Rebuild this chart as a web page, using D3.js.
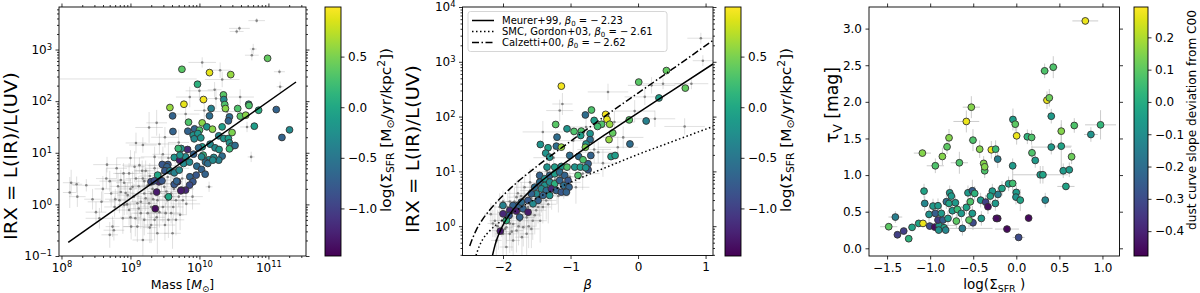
<!DOCTYPE html>
<html>
<head>
<meta charset="utf-8">
<script src="https://cdn.jsdelivr.net/npm/d3@7/dist/d3.min.js"></script>
<style>
  body { margin: 0; background: #fff; }
  svg { font-family: "DejaVu Sans", sans-serif; }
</style>
</head>
<body>
<svg id="fig" width="1200" height="293"></svg>
<script>
// ---------- values ----------

// panel 1: [log10 Mass, log10 IRX, log10 Sigma_SFR]
const p1Pts = [
  [9.746,2.617,0.35],[10.146,2.553,0.9],[10.454,2.514,0.6],[10.988,2.830,0.4],[9.972,2.327,0.1],
  [9.775,1.940,0.9],[10.059,2.031,0.95],[10.348,2.121,0.35],[10.353,2.031,-0.3],[10.367,1.934,0.3],
  [10.377,1.857,0.55],[10.170,1.857,-0.4],[10.146,1.715,-0.6],[10.555,1.857,0.3],[10.714,1.940,-0.2],
  [10.719,1.915,0.3],[10.858,1.824,0.05],[11.114,1.837,-0.7],[10.593,1.708,0.35],[10.671,1.728,0.55],
  [10.796,1.515,-0.1],[11.306,1.444,-0.3],[11.196,1.296,-0.7],[10.435,1.695,-0.6],[10.420,1.618,-0.7],
  [9.842,1.592,0.3],[10.040,1.579,0.55],[10.107,1.502,-0.2],[10.189,1.457,0.55],[10.329,1.502,-0.1],
  [10.473,1.392,0.5],[9.929,1.463,-0.7],[10.001,1.438,0.3],[9.832,1.418,-0.7],[9.909,1.341,-0.2],
  [9.977,1.373,-0.2],[9.924,1.270,-0.3],[10.020,1.289,-0.2],[10.280,1.328,-0.3],[10.353,1.276,-0.2],
  [10.420,1.276,-0.1],[10.435,1.192,-0.2],[10.468,1.128,-0.3],[10.435,1.076,0.2],[10.516,1.141,-0.6],
  [10.155,1.167,-0.3],[10.040,1.115,-0.1],[9.987,1.096,-0.6],[10.227,1.096,-0.3],[10.285,1.063,-0.2],
  [10.329,0.935,-0.6],[10.280,0.857,-0.4],[10.208,0.909,-0.3],[10.136,0.864,-0.3],[10.054,0.954,0.15],
  [10.088,0.819,-0.6],[10.030,0.922,-0.3],[9.914,0.973,-0.7],[9.828,1.063,-1.2],[9.799,0.922,-0.3],
  [9.736,1.083,-0.2],[9.770,0.793,-0.3],[9.856,0.819,-0.3],[9.962,0.741,-0.6],[10.030,0.677,-0.7],
  [10.083,0.586,-0.7],[9.953,0.567,-0.8],[9.861,0.535,-0.7],[9.905,0.438,-0.8],[9.857,0.374,-0.9],
  [9.799,0.277,-1.2],[9.736,0.277,-1.3],[10.121,0.793,-0.6],[10.194,0.857,-0.3],
  [9.572,1.876,0.6],[9.611,1.715,-0.7],[9.616,1.412,-0.7],[9.693,1.083,0.2],[9.635,0.909,-0.2],
  [9.712,0.857,-1.3],[9.717,0.954,-0.2],[9.543,0.773,-0.8],[9.461,0.773,-0.8],[9.529,0.728,-0.7],
  [9.500,0.651,-0.8],[9.572,0.651,-0.4],[9.635,0.612,-0.4],[9.707,0.664,-0.3],[9.394,0.567,0.0],
  [9.413,0.438,-1.2],[9.457,0.457,-0.8],[9.298,0.438,-0.9],[9.346,0.457,-0.9],[9.683,0.438,-1.2],
  [9.635,0.387,-0.8],[9.669,0.451,-0.7],[9.731,0.264,-1.3],[9.380,0.238,-1.3],[9.553,0.148,0.0],
  [9.360,-0.084,-1.4]
];

// panel 1 comparison sample: [log10 Mass, log10 IRX, x err (dex), y err (dex)]
const p1Grey = [
  [8.14,0.42,0.12,0.25],[8.22,0.39,0.08,0.15],[8.36,0.37,0.2,0.12],[8.12,0.23,0.1,0.3],[8.23,0.15,0.12,0.2],
  [8.66,0.77,0.2,0.15],[8.65,0.50,0.15,0.2],[8.58,0.05,0.2,0.2],[8.72,0.21,0.1,0.25],[8.86,0.47,0.15,0.2],
  [8.91,0.42,0.12,0.15],[8.98,0.60,0.2,0.2],[9.06,0.73,0.15,0.3],[9.13,0.76,0.25,0.15],[9.18,0.50,0.12,0.25],
  [9.22,0.65,0.15,0.2],[9.25,0.37,0.2,0.3],[9.30,0.21,0.15,0.25],[9.08,1.19,0.15,0.2],[9.18,1.15,0.2,0.15],
  [9.27,1.49,0.2,0.3],[9.38,1.58,0.15,0.25],[9.42,1.17,0.25,0.2],[9.35,0.92,0.2,0.2],[9.47,0.97,0.15,0.15],
  [8.84,0.08,0.15,0.25],[8.91,-0.01,0.1,0.2],[8.98,-0.11,0.2,0.3],[9.07,-0.27,0.15,0.35],[9.01,-0.43,0.12,0.25],
  [8.76,-0.50,0.15,0.2],[8.70,-0.59,0.12,0.25],[8.74,-0.43,0.1,0.2],[9.10,0.02,0.2,0.25],[9.15,-0.17,0.15,0.3],
  [9.25,-0.17,0.2,0.3],[9.35,-0.30,0.15,0.4],[9.39,0.08,0.2,0.25],[9.47,-0.05,0.15,0.3],[9.51,-0.17,0.2,0.2],
  [9.59,-0.17,0.15,0.2],[9.66,-0.30,0.12,0.3],[9.18,-0.69,0.15,0.4],[9.61,-0.56,0.12,0.3],[8.89,-0.27,0.15,0.3],
  [8.55,-0.27,0.2,0.2],[9.20,0.21,0.2,0.25],[9.49,0.34,0.15,0.2],[9.39,0.47,0.2,0.25],[8.86,0.24,0.15,0.2],
  [9.03,0.34,0.2,0.3],[8.96,0.18,0.15,0.25],[9.59,0.21,0.15,0.2],[9.66,0.08,0.12,0.25],[9.54,0.53,0.15,0.2],
  [8.77,-0.05,0.15,0.2],[9.10,-0.43,0.2,0.3],[9.39,-0.56,0.15,0.4],[9.30,-0.05,0.2,0.25],[9.54,0.08,0.15,0.2],
  [10.83,3.56,0.12,0.05],[10.58,3.41,0.15,0.05],[10.54,3.35,0.1,0.05],[10.78,3.01,0.05,0.1],[10.76,2.89,0.1,0.1],
  [11.16,2.57,0.08,0.05],[11.17,2.28,0.05,0.1],[10.04,2.75,0.2,0.1],[10.33,2.42,0.25,0.15],[10.22,2.22,0.1,0.15],
  [10.59,2.08,0.2,0.15],[10.07,1.82,0.15,0.2],[10.69,1.50,0.1,0.1],[10.75,0.92,0.05,0.1],[10.14,0.34,0.05,0.1],
  [9.76,0.08,0.2,0.3],[9.90,0.15,0.15,0.25],[9.81,0.01,0.2,0.2],[10.24,2.05,0.15,0.2],[9.86,2.08,0.2,0.2],
  [7.9,2.43,2.06,0.0],
  [9.5,1.3,0.2,0.2],[9.7,1.2,0.15,0.25],[9.8,1.75,0.2,0.2],[9.45,0.75,0.2,0.2],[9.0,0.9,0.2,0.15],
  [8.8,0.7,0.15,0.2],[9.65,0.7,0.2,0.2],[9.55,0.9,0.15,0.3],[10.0,2.2,0.2,0.2],[10.4,1.8,0.2,0.2],
  [10.3,2.6,0.15,0.15],[9.5,-0.4,0.15,0.3],[9.28,-0.45,0.1,0.3],[8.45,0.1,0.12,0.2],[8.5,-0.15,0.15,0.2],
  [9.0,0.3,0.15,0.2],[9.05,0.15,0.12,0.25],[9.12,0.35,0.2,0.2],[9.15,0.05,0.15,0.3],[9.2,0.45,0.12,0.2],
  [9.28,0.55,0.15,0.25],[9.32,0.3,0.1,0.2],[9.33,0.1,0.15,0.3],[9.4,0.25,0.15,0.2],[9.42,-0.15,0.12,0.3],
  [9.45,0.6,0.2,0.2],[9.52,0.25,0.15,0.25],[9.55,-0.3,0.12,0.35],[9.6,0.4,0.15,0.2],[9.62,-0.05,0.15,0.25],
  [9.7,0.15,0.12,0.2],[9.72,-0.2,0.1,0.3],[9.75,0.5,0.15,0.2],[8.95,0.0,0.12,0.2],[8.9,0.6,0.15,0.2],
  [8.82,0.35,0.12,0.25],[8.7,0.45,0.15,0.2],[8.6,0.3,0.12,0.25],[9.0,-0.25,0.15,0.3],[9.2,-0.3,0.12,0.3],
  [9.3,-0.4,0.1,0.35],[9.45,0.4,0.12,0.2],[9.08,0.5,0.15,0.2],[9.17,0.65,0.12,0.2],[9.35,0.7,0.15,0.25],
  [9.27,0.02,0.12,0.25],[9.5,0.15,0.15,0.2],[9.63,0.3,0.12,0.2],[9.38,-0.25,0.12,0.3],[8.93,0.22,0.12,0.2],
  [9.12,-0.08,0.15,0.3],[9.22,0.12,0.12,0.25],[9.58,0.6,0.15,0.2],[8.78,0.1,0.15,0.2],[9.8,0.3,0.12,0.2]
];

// panel 1 best-fit line end points
const fitMass = [8.098, 11.40];
const fitIRX = [-0.735, 2.371];

// panel 2: [beta, log10 IRX, log10 Sigma_SFR]
const p2Pts = [
  [0.42,2.84,0.4],[0.01,2.63,0.35],[0.70,2.52,0.4],[0.31,2.34,-0.1],[0.12,1.92,-0.4],
  [-0.13,1.94,0.35],[-0.48,2.04,0.95],[-0.46,1.95,0.9],[-0.42,1.86,0.6],[-0.54,1.86,0.3],
  [-0.60,1.82,0.25],[-0.65,1.93,-0.1],[-0.69,2.12,0.3],[-0.78,2.03,-0.6],[-0.375,1.70,0.4],
  [-0.43,1.58,0.6],[-0.71,1.69,-0.2],[-0.71,1.58,-0.6],[-0.12,1.50,-0.6],[-0.40,1.27,-0.1],
  [-0.34,1.29,-0.1],[-0.70,1.29,-0.7],[-0.77,1.50,-0.2],[-0.78,1.44,0.5],[-0.74,1.14,-0.7],
  [-0.74,1.03,-0.8],
  [-1.136,2.556,0.95],[-1.220,1.856,0.35],[-1.052,1.777,-0.2],[-0.948,1.729,0.3],[-0.840,1.735,0.3],
  [-1.200,1.625,-0.6],[-0.849,1.655,-0.1],[-1.447,1.491,-0.2],[-1.333,1.431,-0.1],[-1.210,1.461,-0.6],
  [-1.136,1.443,0.6],[-1.368,1.333,-0.2],[-1.309,1.260,-0.2],[-1.012,1.291,-0.6],[-0.879,1.272,-0.6],
  [-0.815,1.212,0.3],[-1.348,1.078,-0.2],[-1.235,1.078,-0.1],[-1.136,1.090,-0.2],[-1.052,1.078,0.3],
  [-0.938,1.078,-0.2],[-0.854,1.078,-0.1],[-0.775,1.066,-0.2],[-0.889,0.926,0.3],
  [-1.457,0.926,-0.7],[-1.383,0.865,-0.2],[-1.309,0.926,-0.7],[-1.235,0.956,-0.1],[-1.161,0.986,-0.6],
  [-1.086,0.926,-0.7],[-1.037,0.834,-0.8],[-1.457,0.804,-0.6],[-1.383,0.743,-0.2],[-1.309,0.804,-0.3],
  [-1.235,0.774,0.1],[-1.161,0.834,-0.7],[-1.101,0.743,-0.6],[-1.022,0.713,-0.7],[-1.432,0.682,-0.3],
  [-1.358,0.652,-0.6],[-1.284,0.682,-1.2],[-1.210,0.652,-0.7],[-1.136,0.621,-0.8],[-1.062,0.621,-0.7],
  [-1.506,0.591,-0.3],[-1.407,0.561,-0.7],[-1.309,0.561,-0.2],[-1.531,0.713,-0.6],[-1.580,0.591,-0.7],
  [-1.481,0.469,-0.7],[-1.630,0.469,-0.8],[-1.556,0.409,-0.3],[-1.704,0.317,-0.7],[-1.778,0.378,-0.7],
  [-1.728,0.439,-0.6],[-1.852,0.378,-0.7],[-1.803,0.275,-1.3],[-1.901,0.287,-1.2],[-2.000,0.378,-0.4],
  [-1.911,0.196,-0.8],[-1.753,0.165,-0.7],[-1.630,0.256,-1.3],[-1.951,0.104,0.1],[-2.000,0.226,-1.2],
  [-2.040,-0.090,-1.3]
];

// panel 2 comparison sample: [beta, log10 IRX, x err, y err (dex)]
const p2Grey = [
  [-2.18,0.22,0.1,0.2],[-2.12,0.10,0.08,0.3],[-2.07,-0.08,0.1,0.35],[-2.0,-0.14,0.12,0.4],[-1.95,-0.02,0.1,0.3],
  [-1.90,-0.14,0.1,0.35],[-1.85,0.04,0.12,0.3],[-1.80,-0.08,0.1,0.4],[-1.75,0.10,0.12,0.3],[-1.70,-0.02,0.1,0.35],
  [-1.65,0.16,0.12,0.3],[-1.60,0.22,0.15,0.3],[-1.56,0.10,0.1,0.35],[-1.51,0.29,0.15,0.3],[-1.65,-0.14,0.1,0.4],
  [-1.85,-0.26,0.1,0.3],[-1.95,-0.38,0.1,0.3],[-2.10,-0.26,0.08,0.3],[-1.46,0.47,0.15,0.3],[-1.41,0.35,0.12,0.3],
  [-1.36,0.47,0.15,0.35],[-1.60,0.65,0.15,0.3],[-1.68,0.71,0.15,0.25],[-1.80,0.53,0.12,0.3],[-1.46,0.71,0.2,0.3],
  [-1.31,0.90,0.2,0.3],[-1.16,0.90,0.2,0.25],[-1.01,0.90,0.25,0.3],[-0.92,0.71,0.2,0.3],[-0.82,0.96,0.25,0.3],
  [-0.77,1.81,0.3,0.2],[-0.96,1.56,0.3,0.25],[-2.05,0.35,0.1,0.25],[-2.0,0.45,0.1,0.2],[-1.9,0.05,0.1,0.3],
  [-1.75,0.28,0.15,0.3],[-1.55,0.4,0.15,0.3],[-1.5,0.55,0.2,0.3],[-1.4,0.6,0.2,0.3],[-1.3,0.75,0.2,0.3],
  [-1.2,0.7,0.2,0.3],[-1.1,0.8,0.25,0.3],[-1.7,0.45,0.15,0.3],[-1.72,-0.2,0.1,0.35],[-1.58,-0.05,0.12,0.35],
  [-1.78,0.6,0.15,0.25],[-1.25,1.25,0.3,0.25],[-1.12,2.23,0.15,0.2],[-1.16,2.11,0.2,0.2],[-1.41,1.72,0.3,0.2],
  [-0.65,1.4,0.25,0.25],
  [0.93,3.43,0.2,0.1],[0.96,3.02,0.15,0.1],[-0.445,2.45,0.3,0.15],[0.20,2.57,0.35,0.15],[0.37,2.60,0.3,0.1],
  [0.69,1.82,0.3,0.15],[0.25,1.96,0.3,0.15],[-0.22,1.62,0.3,0.2],[-0.59,1.35,0.3,0.2],[-0.52,1.15,0.25,0.25],
  [-0.30,1.44,0.3,0.2],[0.79,2.60,0.25,0.1],[0.10,2.36,0.3,0.15],[-0.35,1.9,0.3,0.2],[-0.05,2.1,0.3,0.2],
  [-2.02,0.1,0.08,0.3],[-1.98,0.25,0.1,0.25],[-1.93,0.35,0.1,0.25],[-1.88,0.18,0.1,0.3],[-1.83,0.45,0.12,0.25],
  [-1.78,0.15,0.1,0.3],[-1.73,0.55,0.12,0.25],[-1.68,0.3,0.1,0.3],[-1.63,0.35,0.12,0.3],[-1.58,0.5,0.12,0.3],
  [-1.53,0.2,0.1,0.35],[-1.48,0.35,0.12,0.3],[-1.43,0.55,0.15,0.3],[-1.38,0.7,0.15,0.3],[-1.33,0.4,0.12,0.35],
  [-1.28,0.6,0.15,0.3],[-1.23,0.85,0.15,0.3],[-1.18,0.55,0.15,0.3],[-2.08,0.0,0.08,0.3],[-2.15,0.05,0.08,0.25],
  [-1.97,-0.05,0.08,0.35],[-1.87,-0.1,0.1,0.35],[-1.77,0.0,0.1,0.35],[-1.62,0.0,0.1,0.4],[-1.45,0.1,0.1,0.4],
  [-1.9,0.45,0.1,0.25],[-1.6,0.8,0.15,0.25],[-1.35,1.0,0.2,0.3]
];

// panel 2 reference relations, sampled off the curves: beta and log10 IRX
const meurerBeta = [-2.156,-2.13,-2.1,-2.05,-2.0,-1.9,-1.8,-1.65,-1.5,-1.25,-1.0,-0.5,0,0.5,1.11];
const meurerIRX  = [-0.535,-0.40,-0.27,-0.11,0.02,0.22,0.38,0.58,0.75,1.0,1.23,1.66,2.07,2.47,2.96];
const smcBeta = [-2.40,-2.35,-2.3,-2.2,-2.0,-1.8,-1.5,-1.0,-0.5,0,0.5,1.11];
const smcIRX  = [-0.535,-0.36,-0.24,-0.09,0.12,0.29,0.51,0.80,1.06,1.31,1.54,1.82];
const calzBeta = [-2.493,-2.45,-2.4,-2.3,-2.2,-2.0,-1.8,-1.5,-1.0,-0.5,0,0.5,1.11];
const calzIRX  = [-0.36,-0.22,-0.08,0.13,0.29,0.56,0.79,1.09,1.55,2.00,2.43,2.86,3.39];
const legendNames = ["Meurer+99, ", "SMC, Gordon+03, ", "Calzetti+00, "];
const legendBeta0 = [-2.23, -2.61, -2.62];

// panel 3: [log Sigma_SFR, tau_V, slope deviation, x err, y err]
const p3Pts = [
  [0.801,3.105,0.27,0.15,0.05],[0.329,2.423,0.08,0.05,0.1],[0.429,2.473,0.08,0.05,0.15],[0.356,2.023,0.27,0.05,0.12],
  [0.383,2.055,0.12,0.04,0.12],[0.406,1.804,-0.06,0.04,0.1],[0.673,1.677,0.08,0.04,0.1],[0.978,1.686,0.03,0.18,0.2],
  [0.866,1.554,-0.08,0.08,0.1],[0.522,1.600,0.15,0.04,0.15],[-0.039,1.759,-0.05,0.04,0.15],[-0.012,1.695,0.1,0.04,0.1],
  [0.004,1.536,0.27,0.04,0.12],[0.128,1.523,0.02,0.04,0.1],[0.178,1.514,0.08,0.04,0.1],[0.182,1.304,0.08,0.04,0.1],
  [0.220,1.200,-0.06,0.04,0.1],[0.406,1.382,-0.06,0.23,0.1],[0.522,1.395,-0.03,0.12,0.3],[0.642,1.250,0.12,0.04,0.1],
  [-0.042,1.127,-0.06,0.04,0.1],[-0.216,1.218,-0.15,0.04,0.12],[0.278,1.004,-0.06,0.32,0.12],[0.309,1.004,-0.03,0.04,0.12],
  [0.545,1.059,-0.06,0.04,0.1],[0.615,1.072,-0.06,0.04,0.1],[0.576,0.845,-0.03,0.1,0.05],[-0.166,0.818,-0.03,0.04,0.1],
  [-0.089,0.881,-0.05,0.04,0.1],[-0.042,0.886,0.06,0.04,0.15],[0.000,0.763,-0.06,0.04,0.1],[-0.004,0.699,-0.08,0.04,0.1],
  [0.046,0.658,-0.03,0.04,0.15],[0.336,0.658,-0.12,0.04,0.1],[-0.213,0.736,-0.15,0.04,0.1],[-0.216,0.408,-0.46,0.04,0.05],
  [0.143,0.413,-0.46,0.04,0.05],[-0.108,0.263,-0.46,0.14,0.04],[0.027,0.149,-0.3,0.07,0.04],
  [-0.522,1.927,0.15,0.1,0.15],[-0.580,1.732,0.27,0.15,0.15],[-0.503,1.477,0.08,0.05,0.15],[-0.781,1.509,0.15,0.04,0.12],
  [-0.804,1.386,0.1,0.04,0.1],[-1.090,1.300,0.15,0.1,0.05],[-0.858,1.254,0.15,0.04,0.12],[-0.940,1.127,0.08,0.1,0.1],
  [-0.661,1.168,0.08,0.1,0.15],[-0.425,1.354,0.15,0.04,0.12],[-0.290,1.345,0.27,0.04,0.12],[-0.240,1.354,0.05,0.04,0.12],
  [-0.379,1.159,0.15,0.04,0.1],[-0.367,1.059,0.08,0.04,0.1],[-0.367,1.113,0.15,0.04,0.1],[-1.071,0.781,-0.03,0.04,0.1],
  [-1.063,0.613,-0.12,0.04,0.1],[-1.404,0.427,-0.15,0.08,0.08],[-1.481,0.295,0.1,0.1,0.05],[-1.380,0.185,-0.33,0.04,0.04],
  [-1.307,0.236,-0.33,0.04,0.04],[-1.249,0.131,0.02,0.04,0.04],[-1.210,0.286,-0.03,0.04,0.04],[-1.133,0.340,-0.03,0.04,0.05],
  [-1.083,0.340,0.27,0.04,0.05],[-1.005,0.304,-0.3,0.04,0.05],[-0.947,0.290,-0.45,0.04,0.05],[-0.897,0.313,-0.06,0.2,0.05],
  [-0.839,0.281,-0.03,0.04,0.05],[-0.901,0.249,-0.08,0.04,0.05],[-0.820,0.249,-0.12,0.04,0.05],[-1.013,0.463,-0.08,0.04,0.1],
  [-0.967,0.577,-0.06,0.04,0.1],[-0.909,0.581,-0.06,0.04,0.1],[-0.940,0.477,-0.25,0.04,0.1],[-0.909,0.386,-0.35,0.04,0.1],
  [-0.851,0.386,-0.25,0.04,0.1],[-0.793,0.408,-0.06,0.04,0.1],[-0.870,0.477,-0.06,0.04,0.1],[-0.812,0.636,-0.2,0.04,0.1],
  [-0.773,0.758,-0.06,0.04,0.1],[-0.754,0.713,-0.06,0.04,0.1],[-0.781,0.613,-0.03,0.04,0.1],[-0.707,0.622,-0.06,0.04,0.1],
  [-0.696,0.372,0.1,0.04,0.1],[-0.742,0.513,-0.06,0.04,0.1],[-0.684,0.531,0.05,0.04,0.1],[-0.638,0.477,-0.06,0.04,0.1],
  [-0.580,0.559,-0.03,0.04,0.1],[-0.626,0.272,-0.15,0.35,0.1],[-0.561,0.758,-0.06,0.04,0.1],[-0.510,0.786,-0.25,0.04,0.15],
  [-0.483,0.749,0.02,0.04,0.1],[-0.533,0.636,0.08,0.04,0.1],[-0.510,0.477,-0.06,0.04,0.1],[-0.503,0.349,-0.3,0.04,0.1],
  [-0.549,0.386,0.1,0.04,0.1],[-0.414,0.658,-0.06,0.04,0.1],[-0.406,0.408,-0.06,0.04,0.1],[-0.356,0.631,-0.33,0.04,0.1],
  [-0.329,0.568,-0.45,0.04,0.1],[-0.278,0.781,-0.06,0.04,0.1],[-0.243,0.613,-0.06,0.04,0.1],[-0.302,0.713,-0.03,0.04,0.1],
  [-0.232,0.408,-0.45,0.04,0.05]
];

// tick values
const p1xMajor = [8, 9, 10, 11];
const p1yMajor = [-1, 0, 1, 2, 3];
const p2xMajor = [-2, -1, 0, 1];
const p2yMajor = [0, 1, 2, 3, 4];
const p3xMajor = [-1.5, -1.0, -0.5, 0.0, 0.5, 1.0];
const p3yMajor = [0.0, 0.5, 1.0, 1.5, 2.0, 2.5, 3.0];
const sfrTicks = [-1.0, -0.5, 0.0, 0.5];
const slopeTicks = [-0.4, -0.3, -0.2, -0.1, 0.0, 0.1, 0.2];

// ---------- drawing ----------
const svg = d3.select("#fig");
const defs = svg.append("defs");
const FS = 12;
const minus = s => String(s).replace(/-/g, "\u2212");
const fmt1 = d => minus(d3.format(".1f")(d));

const sfrDomain = [-1.47, 0.99];
const slopeDomain = [-0.477, 0.294];
const colSfr = v => d3.interpolateViridis((v - sfrDomain[0]) / (sfrDomain[1] - sfrDomain[0]));
const colSlope = v => d3.interpolateViridis((v - slopeDomain[0]) / (slopeDomain[1] - slopeDomain[0]));

// minor ticks for log axes (values in log10)
function logMinor(lo, hi) {
  const out = [];
  for (let e = Math.floor(lo); e <= Math.ceil(hi); e++)
    for (let m = 2; m < 10; m++) {
      const v = e + Math.log10(m);
      if (v >= lo && v <= hi) out.push(v);
    }
  return out;
}

// text with italic / sub / super parts
function rich(text, parts, fs) {
  let shift = 0;
  parts.forEach(([s, k]) => {
    const t = text.append("tspan").text(s);
    let target = 0;
    if (k === "sub") { target = 0.22 * fs; t.attr("font-size", fs * 0.7); }
    if (k === "sup") { target = -0.42 * fs; t.attr("font-size", fs * 0.7); }
    if (k === "it") t.attr("font-style", "italic");
    if (target !== shift) { t.attr("dy", target - shift); shift = target; }
  });
  return text;
}

// rotated label, fitted along its length to the size seen in the figure
function vlabel(x, yc, len, parts, fs) {
  const t = svg.append("text").attr("text-anchor", "middle").attr("font-size", fs);
  rich(t, parts, fs);
  const w = t.node().getBBox().width;
  t.attr("transform", `translate(${x},${yc}) rotate(-90) scale(${len / w},1)`);
  return t;
}

function side(g, axisFn, scale, tr, major, minor, fmt, isLog) {
  const a = g.append("g").attr("transform", tr);
  if (minor.length)
    a.append("g").call(axisFn(scale).tickValues(minor).tickSize(2).tickSizeOuter(0).tickFormat(""));
  const m = a.append("g")
    .call(axisFn(scale).tickValues(major).tickSize(3.5).tickSizeOuter(0).tickPadding(3.5).tickFormat(fmt || ""));
  if (isLog && fmt) {
    m.selectAll(".tick text").each(function(d) {
      const t = d3.select(this).text("10");
      t.append("tspan").attr("dy", "-0.5em").attr("font-size", "0.7em").text(minus(d));
    });
  }
  a.selectAll(".domain").remove();
  a.selectAll("g").attr("font-family", "DejaVu Sans").attr("font-size", FS);
  a.selectAll("text").attr("fill", "#000");
  a.selectAll("line").attr("stroke", "#000").attr("stroke-width", 0.8);
}

function axesFrame(box, x, y, o) {
  const g = svg.append("g");
  const b = box.y + box.h, r = box.x + box.w;
  side(g, d3.axisBottom, x, `translate(0,${b})`, o.xMajor, o.xMinor, o.xFmt, o.xLog);
  side(g, d3.axisTop, x, `translate(0,${box.y})`, o.xMajor, o.xMinor, null, false);
  side(g, d3.axisLeft, y, `translate(${box.x},0)`, o.yMajor, o.yMinor, o.yFmt, o.yLog);
  side(g, d3.axisRight, y, `translate(${r},0)`, o.yMajor, o.yMinor, null, false);
  g.append("rect").attr("x", box.x).attr("y", box.y).attr("width", box.w).attr("height", box.h)
    .attr("fill", "none").attr("stroke", "#000").attr("stroke-width", 0.9);
}

function clipFor(id, box) {
  defs.append("clipPath").attr("id", id).append("rect")
    .attr("x", box.x).attr("y", box.y).attr("width", box.w).attr("height", box.h);
  return svg.append("g").attr("clip-path", `url(#${id})`);
}

function colorbar(box, domain, ticks, label, lab) {
  const id = "grad" + box.x;
  const grad = defs.append("linearGradient").attr("id", id)
    .attr("x1", 0).attr("y1", 1).attr("x2", 0).attr("y2", 0);
  d3.range(0, 1.0001, 0.05).forEach(t =>
    grad.append("stop").attr("offset", t).attr("stop-color", d3.interpolateViridis(t)));
  const s = d3.scaleLinear().domain(domain).range([box.y + box.h, box.y]);
  svg.append("rect").attr("x", box.x).attr("y", box.y).attr("width", box.w).attr("height", box.h)
    .attr("fill", `url(#${id})`).attr("stroke", "#000").attr("stroke-width", 0.9);
  side(svg, d3.axisRight, s, `translate(${box.x + box.w},0)`, ticks, [], fmt1, false);
  vlabel(lab.x, lab.y, lab.len, label, lab.fs);
}

function greyErr(g, pts, x, y) {
  g.append("g").selectAll("line").data(pts).join("line")
    .attr("x1", d => x(d[0] - d[2])).attr("x2", d => x(d[0] + d[2]))
    .attr("y1", d => y(d[1])).attr("y2", d => y(d[1]))
    .attr("stroke", "#999").attr("stroke-opacity", 0.3).attr("stroke-width", 1);
  g.append("g").selectAll("line").data(pts).join("line")
    .attr("x1", d => x(d[0])).attr("x2", d => x(d[0]))
    .attr("y1", d => y(d[1] - d[3])).attr("y2", d => y(d[1] + d[3]))
    .attr("stroke", "#999").attr("stroke-opacity", 0.3).attr("stroke-width", 1);
  g.append("g").selectAll("circle").data(pts).join("circle")
    .attr("cx", d => x(d[0])).attr("cy", d => y(d[1])).attr("r", 1.3)
    .attr("fill", "#666").attr("fill-opacity", 0.75);
}

function dots(g, pts, x, y, col) {
  g.append("g").selectAll("circle").data(pts).join("circle")
    .attr("cx", d => x(d[0])).attr("cy", d => y(d[1])).attr("r", 3.4)
    .attr("fill", d => col(d[2])).attr("stroke", "#333").attr("stroke-width", 0.9);
}

const sfrLabel = [["log(\u03A3"], ["SFR", "sub"], [" [M"], ["\u2299", "sub"], ["/yr/kpc"], ["2", "sup"], ["])"]];
const irxLabel = [["IRX = L(IR)/L(UV)"]];

// ---- panel 1 ----
const box1 = {x: 59, y: 7, w: 247, h: 249};
const x1 = d3.scaleLinear().domain([7.964, 11.545]).range([box1.x, box1.x + box1.w]);
const y1 = d3.scaleLinear().domain([-1, 3.824]).range([box1.y + box1.h, box1.y]);
const g1 = clipFor("c1", box1);
greyErr(g1, p1Grey, x1, y1);
dots(g1, p1Pts, x1, y1, colSfr);
g1.append("path").datum(d3.zip(fitMass, fitIRX))
  .attr("d", d3.line().x(d => x1(d[0])).y(d => y1(d[1])))
  .attr("fill", "none").attr("stroke", "#000").attr("stroke-width", 1.5);
axesFrame(box1, x1, y1, {
  xMajor: p1xMajor, xMinor: logMinor(7.964, 11.545), xFmt: d => d, xLog: true,
  yMajor: p1yMajor, yMinor: logMinor(-1, 3.824), yFmt: d => d, yLog: true
});
vlabel(17, 156, 168, irxLabel, 18.5);
rich(svg.append("text").attr("text-anchor", "middle").attr("font-size", 12.5)
  .attr("x", box1.x + box1.w / 2).attr("y", 289), [["Mass ["], ["M", "it"], ["\u2299", "sub"], ["]"]], 12.5);
colorbar({x: 325, y: 7, w: 16, h: 249}, sfrDomain, sfrTicks, sfrLabel, {x: 391, y: 130, len: 164, fs: 14.5});

// ---- panel 2 ----
const box2 = {x: 462.5, y: 7, w: 250.5, h: 248.5};
const x2 = d3.scaleLinear().domain([-2.60, 1.11]).range([box2.x, box2.x + box2.w]);
const y2 = d3.scaleLinear().domain([-0.535, 4]).range([box2.y + box2.h, box2.y]);
const g2 = clipFor("c2", box2);
greyErr(g2, p2Grey, x2, y2);
dots(g2, p2Pts, x2, y2, colSfr);
const curve = d3.line().x(d => x2(d[0])).y(d => y2(d[1])).curve(d3.curveMonotoneX);
const relStyles = [
  {b: meurerBeta, v: meurerIRX, dash: null},
  {b: smcBeta, v: smcIRX, dash: "1.5,2.5"},
  {b: calzBeta, v: calzIRX, dash: "7,2.5,1.5,2.5"}
];
relStyles.forEach(s => {
  g2.append("path").datum(d3.zip(s.b, s.v)).attr("d", curve)
    .attr("fill", "none").attr("stroke", "#000").attr("stroke-width", 1.5)
    .attr("stroke-dasharray", s.dash);
});
axesFrame(box2, x2, y2, {
  xMajor: p2xMajor, xMinor: [], xFmt: d => minus(d), xLog: false,
  yMajor: p2yMajor, yMinor: logMinor(-0.535, 4), yFmt: d => d, yLog: true
});
// legend
const lg = svg.append("g");
lg.append("rect").attr("x", 468).attr("y", 11.5).attr("width", 199).attr("height", 40).attr("rx", 2.5)
  .attr("fill", "#fff").attr("fill-opacity", 0.8).attr("stroke", "#ccc").attr("stroke-width", 0.8);
legendNames.forEach((name, i) => {
  const yy = 20.5 + i * 11;
  lg.append("line").attr("x1", 472).attr("x2", 494).attr("y1", yy).attr("y2", yy)
    .attr("stroke", "#000").attr("stroke-width", 1.5).attr("stroke-dasharray", relStyles[i].dash);
  rich(lg.append("text").attr("x", 502).attr("y", yy + 3.6).attr("font-size", 10),
    [[name], ["\u03B2", "it"], ["0", "sub"], [" = \u2212\u2009" + Math.abs(legendBeta0[i]).toFixed(2)]], 10);
});
vlabel(419, 149, 168, irxLabel, 18.5);
rich(svg.append("text").attr("text-anchor", "middle").attr("font-size", 13)
  .attr("x", box2.x + box2.w / 2).attr("y", 289), [["\u03B2", "it"]], 13);
colorbar({x: 725, y: 7, w: 16, h: 249}, sfrDomain, sfrTicks, sfrLabel, {x: 791, y: 130, len: 164, fs: 14.5});

// ---- panel 3 ----
const box3 = {x: 869, y: 7, w: 250.5, h: 249};
const x3 = d3.scaleLinear().domain([-1.71, 1.198]).range([box3.x, box3.x + box3.w]);
const y3 = d3.scaleLinear().domain([-0.105, 3.295]).range([box3.y + box3.h, box3.y]);
const g3 = clipFor("c3", box3);
g3.append("g").selectAll("line").data(p3Pts).join("line")
  .attr("x1", d => x3(d[0] - d[3])).attr("x2", d => x3(d[0] + d[3]))
  .attr("y1", d => y3(d[1])).attr("y2", d => y3(d[1]))
  .attr("stroke", "#ccc").attr("stroke-width", 1);
g3.append("g").selectAll("line").data(p3Pts).join("line")
  .attr("x1", d => x3(d[0])).attr("x2", d => x3(d[0]))
  .attr("y1", d => y3(d[1] - d[4])).attr("y2", d => y3(d[1] + d[4]))
  .attr("stroke", "#ccc").attr("stroke-width", 1);
dots(g3, p3Pts, x3, y3, colSlope);
axesFrame(box3, x3, y3, {
  xMajor: p3xMajor, xMinor: [], xFmt: fmt1, xLog: false,
  yMajor: p3yMajor, yMinor: [], yFmt: fmt1, yLog: false
});
vlabel(838, 105, 76, [["\u03C4"], ["V", "sub"], [" [mag]"]], 17);
rich(svg.append("text").attr("text-anchor", "middle").attr("font-size", 13.5)
  .attr("x", box3.x + box3.w / 2).attr("y", 289), [["log(\u03A3"], ["SFR", "sub"], [" )"]], 13.5);
colorbar({x: 1134, y: 7, w: 14, h: 249}, slopeDomain, slopeTicks,
  [["dust curve slope deviation from C00"]], {x: 1196, y: 120, len: 220, fs: 12.5});
</script>
</body>
</html>
